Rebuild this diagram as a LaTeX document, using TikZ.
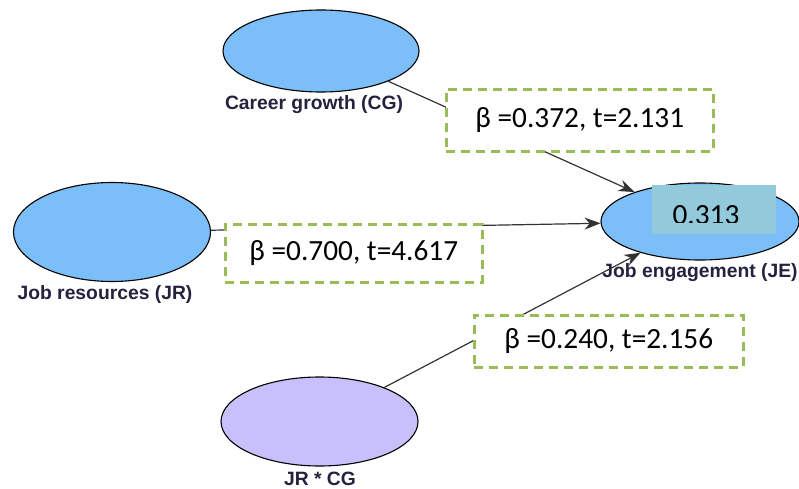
\documentclass[tikz,border=0pt]{standalone}
\usepackage{fontspec}
\setmainfont{Carlito}
\newfontfamily\labelfont{Liberation Sans}
\usetikzlibrary{shapes.geometric,arrows.meta}
\definecolor{latentblue}{HTML}{7BBEF8}
\definecolor{latentlilac}{HTML}{C8C0FA}
\definecolor{rsqbox}{HTML}{92CADB}
\definecolor{dashgreen}{HTML}{9BBB59}
\definecolor{labelink}{HTML}{23233F}
\tikzset{
  latent/.style={ellipse, draw=black, line width=1.1pt, inner sep=0pt},
  varlabel/.style={font=\labelfont\bfseries\fontsize{19.3}{20}\selectfont, text=labelink, inner sep=0pt},
  coefbox/.style={draw=dashgreen, fill=white, line width=2.6pt, dash pattern=on 9pt off 6pt,
    inner sep=0pt, anchor=north west},
  coeftext/.style={font=\fontsize{29.3}{30}\selectfont, inner sep=0pt},
  path/.style={draw=black!80, line width=1.2pt},
  arrowpath/.style={path, -{Stealth[length=16pt, width=12pt]}}
}
\begin{document}
\begin{tikzpicture}[x=1pt, y=-1pt]
\useasboundingbox (0,0) rectangle (799,489);

% latent variables
\node[latent, fill=latentblue, minimum width=196pt, minimum height=82pt] (cg) at (321,51) {};
\node[latent, fill=latentblue, minimum width=197pt, minimum height=99pt] (jr) at (112,232) {};
\node[latent, fill=latentblue, minimum width=198pt, minimum height=77pt] (je) at (700,221.5) {};
\node[latent, fill=latentlilac, minimum width=197pt, minimum height=89pt] (jrcg) at (319.5,421.5) {};

% variable names
\node[varlabel] (cglab) at (314,105) {Career growth (CG)};
\node[varlabel] (jrlab) at (105,295) {Job resources (JR)};
\node[varlabel] (jelab) at (700,273) {Job engagement (JE)};
\node[varlabel] (jrcglab) at (320,479) {JR * CG};

% structural paths
\draw[arrowpath] (cg) -- (je);
\draw[arrowpath] (jr) -- (je);
\draw[arrowpath] (jrcg) -- (je);

% R-squared of the endogenous construct
\node[fill=rsqbox, minimum width=124pt, minimum height=49pt, inner sep=0pt, anchor=north west] (rsq) at (652,185) {};
\begin{scope}
  \clip (652,185) rectangle (776,222.5);
  \node[coeftext, anchor=base] (rsqval) at (706,224) {0.313};
\end{scope}

% path coefficients
\node[coefbox, minimum width=267pt, minimum height=62pt] (b1) at (445,88) {};
\node[coeftext] (b1t) at (b1.center) {β =0.372, t=2.131};
\node[coefbox, minimum width=257pt, minimum height=58pt] (b2) at (224,223) {};
\node[coeftext] (b2t) at (b2.center) {β =0.700, t=4.617};
\node[coefbox, minimum width=269pt, minimum height=52pt] (b3) at (473,314) {};
\node[coeftext] (b3t) at (b3.center) {β =0.240, t=2.156};
\end{tikzpicture}
\end{document}
